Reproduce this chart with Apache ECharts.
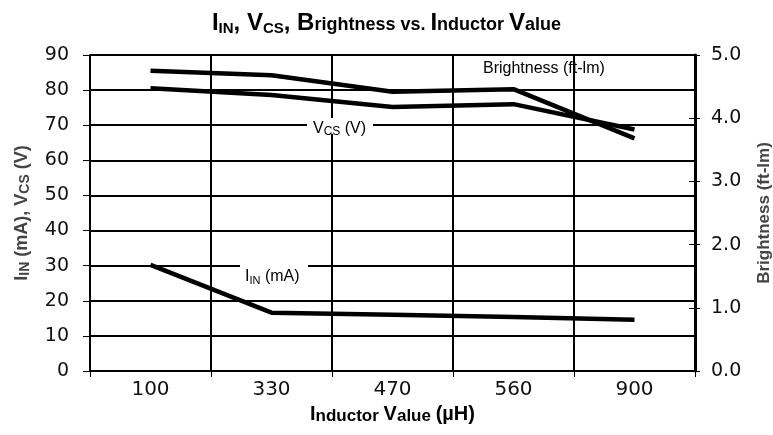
<!DOCTYPE html>
<html>
<head>
<meta charset="utf-8">
<script src="https://cdn.jsdelivr.net/npm/echarts@6/dist/echarts.min.js"></script>
<style>
  html, body { margin: 0; padding: 0; background: #fff; }
  #main { width: 773px; height: 435px; }
</style>
</head>
<body>
<div id="main"></div>
<script>
// inductor values (uH)
var inductors = ['100', '330', '470', '560', '900'];
// left axis series
var iin = [30.2, 16.6, 16.0, 15.4, 14.6];
var vcs = [80.5, 78.6, 75.2, 76.0, 68.8];
// right axis series
var brightness = [4.75, 4.68, 4.42, 4.46, 3.68];
var leftTicks = [0, 90, 10];
var rightTicks = [0, 5, 1];

var chart = echarts.init(document.getElementById('main'));
var font = 'Liberation Sans, Arial, sans-serif';
var narrow = 'Liberation Sans Narrow, Arial Narrow, sans-serif';
var numFont = 'DejaVu Sans, sans-serif';

var option = {
  animation: false,
  backgroundColor: '#fff',
  title: {
    text: '{b|I}{s|IN}{b|, V}{s|CS}{b|, B}{m|rightness vs. }{b|I}{m|nductor }{b|V}{m|alue}',
    left: 'center',
    top: 6,
    textStyle: {
      rich: {
        b: { fontFamily: narrow, fontWeight: 'bold', fontSize: 24, color: '#000' },
        m: { fontFamily: narrow, fontWeight: 'bold', fontSize: 18, color: '#000', padding: [4, 0, 0, 0] },
        s: { fontFamily: narrow, fontWeight: 'bold', fontSize: 15, color: '#000', padding: [10, 0, 0, 0] }
      }
    }
  },
  grid: { left: 90, right: 78, top: 55, bottom: 64, containLabel: false, outerBoundsMode: 'none' },
  xAxis: {
    type: 'category',
    data: inductors,
    boundaryGap: true,
    name: '{b|I}{m|nductor }{b|V}{m|alue }{b|(µH)}',
    nameLocation: 'middle',
    nameGap: 32,
    nameTextStyle: {
      rich: {
        b: { fontFamily: font, fontWeight: 'bold', fontSize: 20, color: '#000' },
        m: { fontFamily: font, fontWeight: 'bold', fontSize: 17, color: '#000', padding: [3, 0, 0, 0] }
      }
    },
    axisLine: { lineStyle: { color: '#000', width: 2 } },
    axisTick: { show: true, length: 6, lineStyle: { color: '#000', width: 1 } },
    axisLabel: { fontFamily: numFont, fontSize: 20, color: '#111', margin: 9 },
    splitLine: { show: true, lineStyle: { color: '#000', width: 2 } }
  },
  yAxis: [
    {
      type: 'value',
      min: leftTicks[0], max: leftTicks[1], interval: leftTicks[2],
      position: 'left',
      name: '{b|I}{s|IN}{b| (mA), V}{s|CS}{b| (V)}',
      nameLocation: 'middle',
      nameGap: 58,
      nameRotate: 90,
      nameTextStyle: {
        rich: {
          b: { fontFamily: font, fontWeight: 'bold', fontSize: 18, color: '#444' },
          s: { fontFamily: font, fontWeight: 'bold', fontSize: 14, color: '#444', padding: [5, 0, 0, 0] }
        }
      },
      axisLine: { show: true, lineStyle: { color: '#000', width: 2 } },
      axisTick: { show: true, length: 7, lineStyle: { color: '#000', width: 1 } },
      axisLabel: { fontFamily: numFont, fontSize: 19, color: '#111', margin: 21 },
      splitLine: { show: true, lineStyle: { color: '#000', width: 2 } }
    },
    {
      type: 'value',
      min: rightTicks[0], max: rightTicks[1], interval: rightTicks[2],
      position: 'right',
      name: 'Brightness (ft-lm)',
      nameLocation: 'middle',
      nameGap: 61,
      nameRotate: 90,
      nameTextStyle: { fontFamily: font, fontWeight: 'bold', fontSize: 17, color: '#444' },
      axisLine: { show: true, lineStyle: { color: '#000', width: 3 } },
      axisTick: { show: true, length: 5, lineStyle: { color: '#000', width: 1 } },
      axisLabel: {
        fontFamily: numFont, fontSize: 19, color: '#111', margin: 16,
        formatter: function (v) { return v.toFixed(1); }
      },
      splitLine: { show: false }
    },
    {
      type: 'value',
      min: rightTicks[0], max: rightTicks[1], interval: rightTicks[2],
      position: 'right',
      axisLine: { show: false },
      axisTick: { show: true, inside: true, length: 6, lineStyle: { color: '#000', width: 1 } },
      axisLabel: { show: false },
      splitLine: { show: false }
    }
  ],
  series: [
    {
      name: 'IIN', type: 'line', yAxisIndex: 0, data: iin,
      symbol: 'none', lineStyle: { color: '#000', width: 4.5 }
    },
    {
      name: 'VCS', type: 'line', yAxisIndex: 0, data: vcs,
      symbol: 'none', lineStyle: { color: '#000', width: 4.5 }
    },
    {
      name: 'Brightness', type: 'line', yAxisIndex: 1, data: brightness,
      symbol: 'none', lineStyle: { color: '#000', width: 4.5 }
    }
  ],
  graphic: [
    {
      type: 'text', left: 483, top: 61, z: 100,
      style: { text: 'Brightness (ft-lm)', font: '16px ' + font, fill: '#000' }
    },
    {
      type: 'rect', shape: { x: 307, y: 118, width: 66, height: 16 }, z: 99,
      style: { fill: '#fff' }
    },
    {
      type: 'text', left: 313, top: 121, z: 100,
      style: {
        text: '{n|V}{s|CS}{n| (V)}',
        rich: {
          n: { fontFamily: font, fontSize: 16, fill: '#000' },
          s: { fontFamily: font, fontSize: 12, fill: '#000', padding: [6, 0, 0, 0] }
        }
      }
    },
    {
      type: 'rect', shape: { x: 240, y: 259, width: 68, height: 12 }, z: 99,
      style: { fill: '#fff' }
    },
    {
      type: 'text', left: 245, top: 269, z: 100,
      style: {
        text: '{n|I}{s|IN}{n| (mA)}',
        rich: {
          n: { fontFamily: font, fontSize: 16, fill: '#000' },
          s: { fontFamily: font, fontSize: 11, fill: '#000', padding: [7, 0, 0, 0] }
        }
      }
    }
  ]
};
chart.setOption(option);
</script>
</body>
</html>
